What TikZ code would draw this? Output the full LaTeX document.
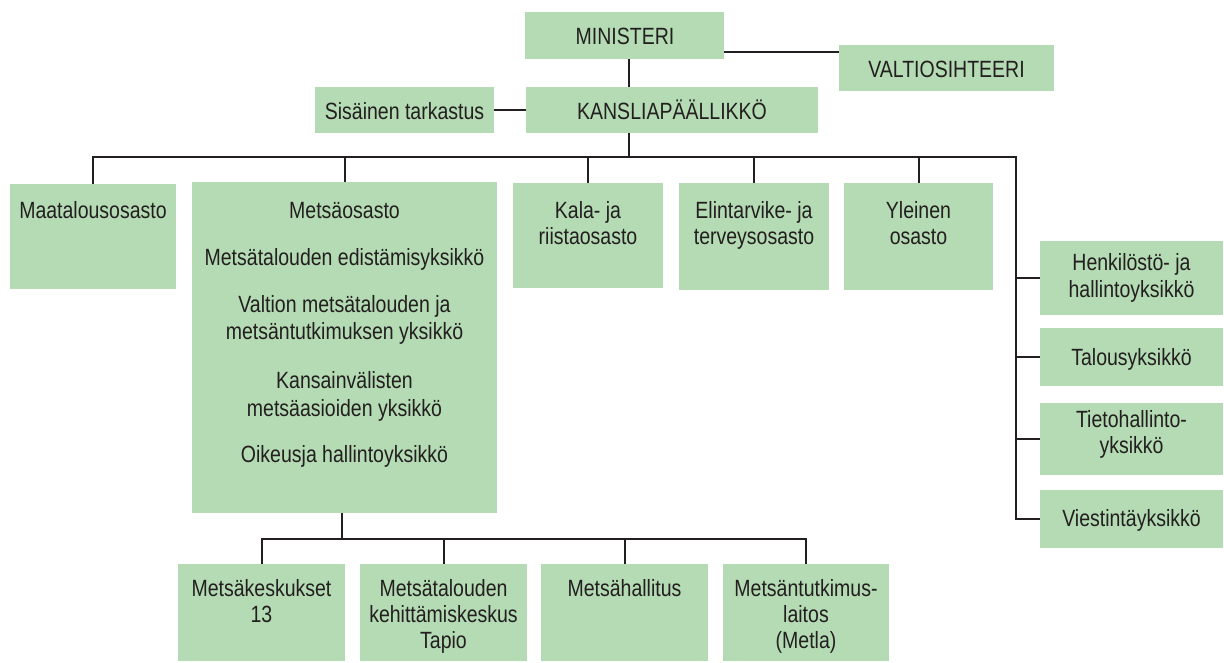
\documentclass[tikz,border=0pt]{standalone}
\usepackage{fontspec}
\setmainfont{Liberation Sans}[FakeStretch=0.83]
\definecolor{boxgreen}{RGB}{180,219,179}
\definecolor{ink}{RGB}{35,31,32}
\tikzset{
  orgbox/.style={draw=none, fill=boxgreen, rectangle, inner sep=0pt, outer sep=0pt, anchor=north west},
  conn/.style={draw=ink, line width=2pt},
  txt/.style={text=ink, inner sep=0pt, anchor=base, font=\fontsize{23.5}{26}\selectfont}
}
\newcommand{\obox}[5]{\node[orgbox, minimum width=#4pt, minimum height=#5pt] (#1) at (#2,#3) {};}
\begin{document}
\begin{tikzpicture}[x=1pt,y=-1pt]
\useasboundingbox (0,0) rectangle (1224,662);
% boxes
\obox{min}{525}{12}{199}{47}
\obox{kan}{526}{87}{292}{46}
\obox{sis}{315}{87}{179}{46}
\obox{val}{839}{45}{215}{46}
\obox{maa}{10}{184}{166}{105}
\obox{met}{192}{182}{305}{331}
\obox{kal}{513}{183}{150}{105}
\obox{eli}{679}{183}{150}{107}
\obox{yle}{844}{183}{149}{107}
\obox{hen}{1040}{241}{183}{74}
\obox{tal}{1040}{328}{183}{58}
\obox{tie}{1040}{403}{183}{72}
\obox{vie}{1040}{490}{183}{58}
\obox{mk}{178}{564}{167}{97}
\obox{mt}{360}{564}{167}{97}
\obox{mh}{541}{564}{167}{97}
\obox{mm}{723}{564}{166}{97}
% connector helper coordinates
\coordinate (spine) at (629,157);
\coordinate (rv) at (1016,157);
\coordinate (vy) at (780,52);
\coordinate (bbus) at (342,539);
% connectors
\draw[conn] (min.south -| spine) -- (kan.north -| spine);
\draw[conn] (kan.south -| spine) -- (spine);
\draw[conn] (min.east |- vy) -- (val.west |- vy);
\draw[conn] (sis.east) -- (kan.west);
\draw[conn] (maa.north) |- (rv) -- (rv |- vie.west) -- (vie.west);
\draw[conn] (met.north) -- (met.north |- spine);
\draw[conn] (kal.north) -- (kal.north |- spine);
\draw[conn] (eli.north) -- (eli.north |- spine);
\draw[conn] (yle.north) -- (yle.north |- spine);
\draw[conn] (hen.west -| rv) -- (hen.west);
\draw[conn] (tal.west -| rv) -- (tal.west);
\draw[conn] (tie.west -| rv) -- (tie.west);
\draw[conn] (met.south -| bbus) -- (bbus);
\draw[conn] (mk.north) |- (mm.north |- bbus) -- (mm.north);
\draw[conn] (mt.north) -- (mt.north |- bbus);
\draw[conn] (mh.north) -- (mh.north |- bbus);
% texts
\node[txt] (tmin) at (625,44) {MINISTERI};
\node[txt] (tkan) at (672,119) {KANSLIAPÄÄLLIKKÖ};
\node[txt] (tsis) at (404.5,119) {Sisäinen tarkastus};
\node[txt] (tval) at (946.5,77) {VALTIOSIHTEERI};
\node[txt] (tmaa) at (93,218) {Maatalousosasto};
\node[txt] (tmet1) at (344.5,218) {Metsäosasto};
\node[txt] (tmet2) at (344.5,265) {Metsätalouden edistämisyksikkö};
\node[txt] (tmet3) at (344.5,312) {Valtion metsätalouden ja};
\node[txt] (tmet4) at (344.5,339) {metsäntutkimuksen yksikkö};
\node[txt] (tmet5) at (344.5,388) {Kansainvälisten};
\node[txt] (tmet6) at (344.5,416) {metsäasioiden yksikkö};
\node[txt] (tmet7) at (344.5,462) {Oikeusja hallintoyksikkö};
\node[txt] (tkal1) at (588,218) {Kala- ja};
\node[txt] (tkal2) at (588,244) {riistaosasto};
\node[txt] (teli1) at (754,218) {Elintarvike- ja};
\node[txt] (teli2) at (754,244) {terveysosasto};
\node[txt] (tyle1) at (918.5,218) {Yleinen};
\node[txt] (tyle2) at (918.5,244) {osasto};
\node[txt] (then1) at (1131.5,270) {Henkilöstö- ja};
\node[txt] (then2) at (1131.5,297) {hallintoyksikkö};
\node[txt] (ttal) at (1131.5,365) {Talousyksikkö};
\node[txt] (ttie1) at (1131.5,427) {Tietohallinto-};
\node[txt] (ttie2) at (1131.5,453) {yksikkö};
\node[txt] (tvie) at (1131.5,526) {Viestintäyksikkö};
\node[txt] (tmk1) at (261.5,596) {Metsäkeskukset};
\node[txt] (tmk2) at (261.5,622) {13};
\node[txt] (tmt1) at (443.5,596) {Metsätalouden};
\node[txt] (tmt2) at (443.5,622) {kehittämiskeskus};
\node[txt] (tmt3) at (443.5,648) {Tapio};
\node[txt] (tmh) at (624.5,596) {Metsähallitus};
\node[txt] (tmm1) at (806,596) {Metsäntutkimus-};
\node[txt] (tmm2) at (806,622) {laitos};
\node[txt] (tmm3) at (806,648) {(Metla)};
\end{tikzpicture}
\end{document}
